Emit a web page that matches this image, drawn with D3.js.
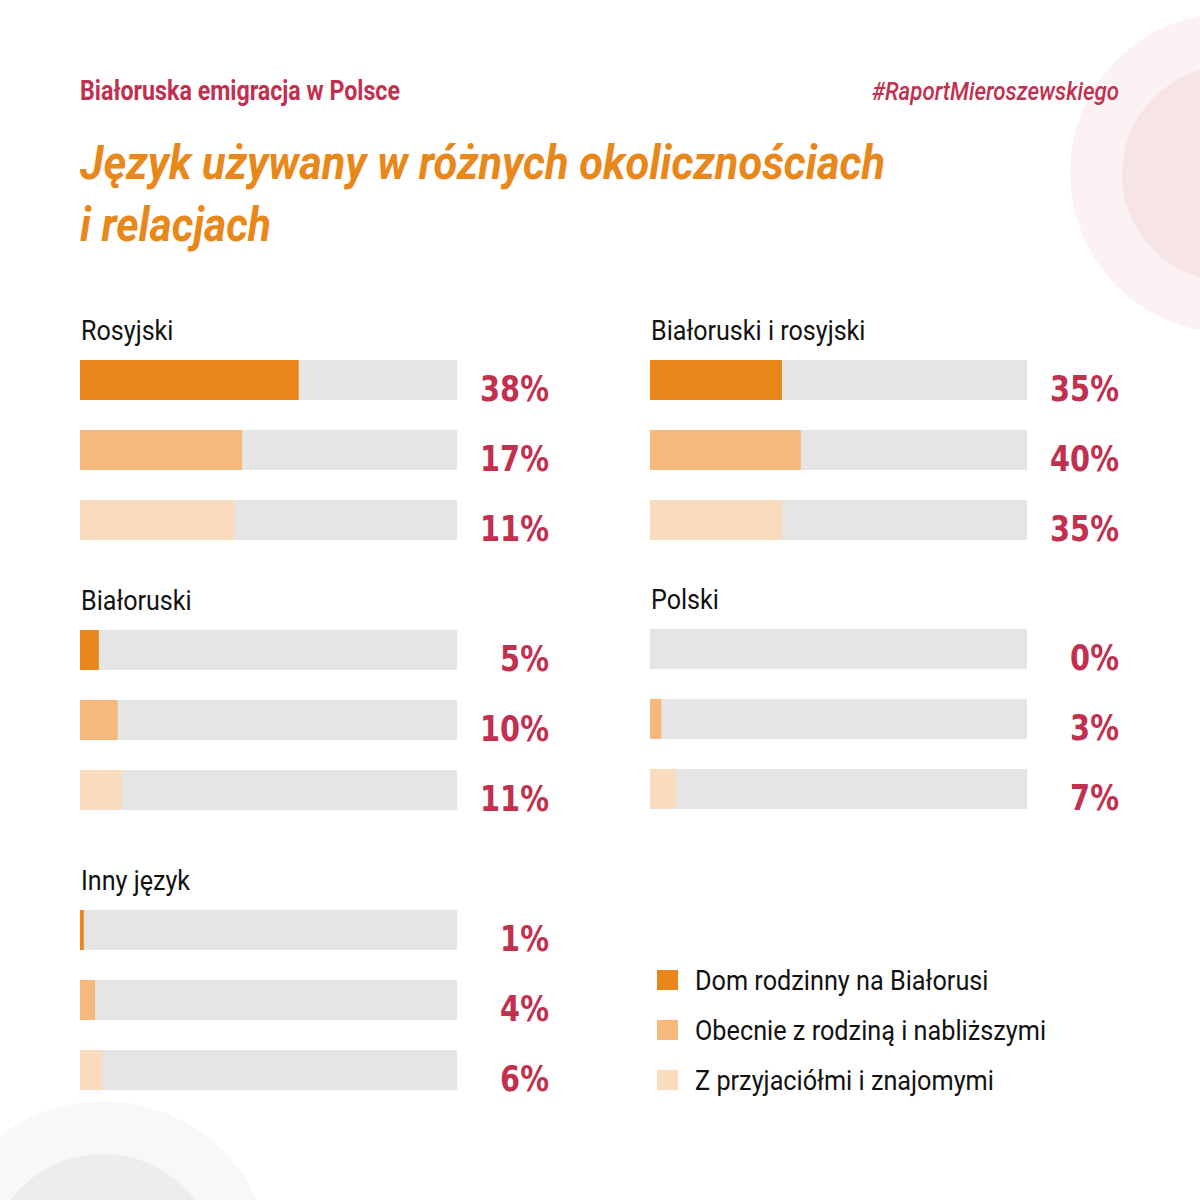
<!DOCTYPE html>
<html>
<head>
<meta charset="utf-8">
<script src="https://cdn.jsdelivr.net/npm/d3@7"></script>
<style>
  html, body { margin: 0; padding: 0; background: #ffffff; }
  svg { display: block; }
</style>
</head>
<body>
<svg id="chart" width="1200" height="1200"></svg>
<script>
// ---------- DATA ----------
const categories = ["Dom rodzinny na Białorusi", "Obecnie z rodziną i nabliższymi", "Z przyjaciółmi i znajomymi"];
const groupNames = ["Rosyjski", "Białoruski i rosyjski", "Białoruski", "Polski", "Inny język"];

// bar lengths as drawn (percent)
const rosyjskiValues = [58, 43, 41];
const bialoruskiIRosyjskiValues = [35, 40, 35];
const bialoruskiValues = [5, 10, 11];
const polskiValues = [0, 3, 7];
const innyJezykValues = [1, 4, 6];

// value labels as printed
const rosyjskiLabels = ["38%", "17%", "11%"];
const bialoruskiIRosyjskiLabels = ["35%", "40%", "35%"];
const bialoruskiLabels = ["5%", "10%", "11%"];
const polskiLabels = ["0%", "3%", "7%"];
const innyJezykLabels = ["1%", "4%", "6%"];

const headerText = "Białoruska emigracja w Polsce";
const hashtagText = "#RaportMieroszewskiego";
const titleLines = ["Język używany w różnych okolicznościach", "i relacjach"];

// ---------- STYLE ----------
const colors = ["#e8861a", "#f4b97b", "#f9dbbd"];
const trackColor = "#e5e5e5";
const crimson = "#c2304f";
const orange = "#e8871a";

const svg = d3.select("#chart");

// background decorations
const deco = svg.append("g");
deco.append("circle").attr("cx", 1230).attr("cy", 173).attr("r", 160).attr("fill", "#fcf1f3");
deco.append("circle").attr("cx", 1230).attr("cy", 174).attr("r", 108).attr("fill", "#f7e4e7");
deco.append("circle").attr("cx", 103).attr("cy", 1270).attr("r", 169).attr("fill", "#f8f8f8");
deco.append("circle").attr("cx", 103).attr("cy", 1270).attr("r", 116).attr("fill", "#ededed");

function fit(sel, w) {
  sel.attr("textLength", w).attr("lengthAdjust", "spacingAndGlyphs");
}
function squeeze(sel, f) {
  sel.each(function() {
    const n = this.getComputedTextLength();
    d3.select(this).attr("textLength", n * f).attr("lengthAdjust", "spacingAndGlyphs");
  });
}

// header
svg.append("text").attr("x", 80).attr("y", 100)
  .attr("font-family", "Roboto, sans-serif").attr("font-weight", 700).attr("font-size", 27)
  .attr("fill", crimson).text(headerText).call(fit, 320);
svg.append("text").attr("x", 1119).attr("y", 100).attr("text-anchor", "end")
  .attr("font-family", "Roboto, sans-serif").attr("font-weight", 500).attr("font-style", "italic").attr("font-size", 26)
  .attr("fill", crimson).text(hashtagText).call(fit, 247);

// title
const titleWidths = [805, 191];
svg.append("g").selectAll("text").data(titleLines).join("text")
  .attr("x", 80).attr("y", (d, i) => 179 + i * 62)
  .attr("font-family", "Roboto, sans-serif").attr("font-weight", 700).attr("font-style", "italic")
  .attr("font-size", 48).attr("fill", orange)
  .text(d => d)
  .each(function(d, i) { d3.select(this).call(fit, titleWidths[i]); });

// ---------- PANELS ----------
const panels = [
  { name: groupNames[0], values: rosyjskiValues, labels: rosyjskiLabels, col: 0, top: 360 },
  { name: groupNames[1], values: bialoruskiIRosyjskiValues, labels: bialoruskiIRosyjskiLabels, col: 1, top: 360 },
  { name: groupNames[2], values: bialoruskiValues, labels: bialoruskiLabels, col: 0, top: 630 },
  { name: groupNames[3], values: polskiValues, labels: polskiLabels, col: 1, top: 629 },
  { name: groupNames[4], values: innyJezykValues, labels: innyJezykLabels, col: 0, top: 910 }
];
const colX = [80, 650];
const barW = 377;

const x = d3.scaleLinear().domain([0, 100]).range([0, barW]);
const y = d3.scaleBand().domain(d3.range(3)).range([0, 180]).paddingInner(3 / 7).paddingOuter(0);

const pg = svg.append("g").selectAll("g").data(panels).join("g")
  .attr("transform", d => `translate(${colX[d.col]},${d.top})`);

pg.append("text").attr("x", 1).attr("y", -20)
  .attr("font-family", "Roboto, sans-serif").attr("font-size", 27).attr("fill", "#111")
  .text(d => d.name).call(squeeze, 0.93);

const rows = pg.selectAll("g.row").data(d => d.values.map((v, i) => ({ v, i, label: d.labels[i] })))
  .join("g").attr("class", "row").attr("transform", d => `translate(0,${y(d.i)})`);

rows.append("rect").attr("x", 0).attr("y", 0).attr("width", x(100)).attr("height", y.bandwidth()).attr("fill", trackColor);
rows.append("rect").attr("x", 0).attr("y", 0).attr("width", d => x(d.v)).attr("height", y.bandwidth()).attr("fill", d => colors[d.i]);
rows.append("text").attr("x", 469).attr("y", y.bandwidth() + 1).attr("text-anchor", "end")
  .attr("font-family", "'DejaVu Sans', sans-serif").attr("font-weight", 700)
  .attr("font-size", 36).attr("fill", crimson)
  .text(d => d.label).call(squeeze, 0.8);

// ---------- LEGEND ----------
const legend = svg.append("g").attr("transform", "translate(657,970)");
const ly = d3.scalePoint().domain(d3.range(categories.length)).range([0, 100]);
const li = legend.selectAll("g").data(categories).join("g").attr("transform", (d, i) => `translate(0,${ly(i)})`);
li.append("rect").attr("width", 21).attr("height", 20).attr("fill", (d, i) => colors[i]);
li.append("text").attr("x", 38).attr("y", 20)
  .attr("font-family", "Roboto, sans-serif").attr("font-size", 27).attr("fill", "#111")
  .text(d => d).call(squeeze, 0.935);
</script>
</body>
</html>
